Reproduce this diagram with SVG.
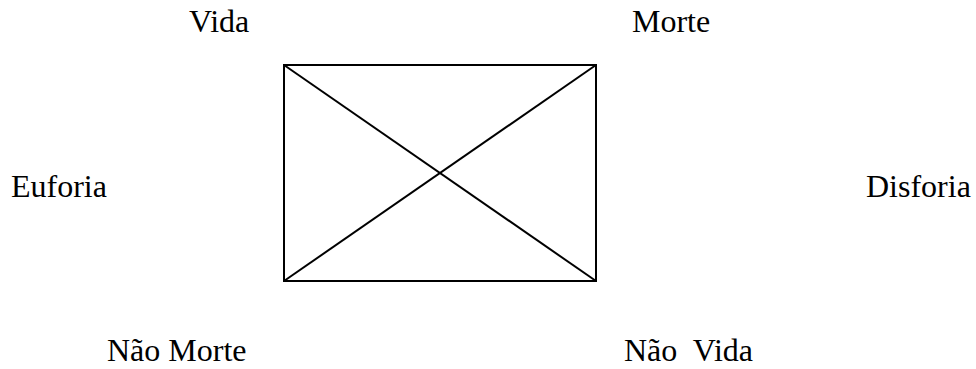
<svg xmlns="http://www.w3.org/2000/svg" width="976" height="369" viewBox="0 0 976 369">
<style>
.t{font-family:"Liberation Serif","Times New Roman",serif;font-size:32px;fill:#000;white-space:pre}
.l{stroke:#000;stroke-width:2;fill:none}
</style>
<rect width="976" height="369" fill="#fff"/>
<g id="square">
<rect class="l" x="284" y="65" width="312" height="216"/>
</g>
<g id="connectors">
<line class="l" x1="284" y1="65" x2="596" y2="281"/>
<line class="l" x1="596" y1="65" x2="284" y2="281"/>
</g>
<g id="vida"><text class="t" x="189" y="32">Vida</text></g>
<g id="morte"><text class="t" x="632" y="32">Morte</text></g>
<g id="euforia"><text class="t" x="11" y="197">Euforia</text></g>
<g id="disforia"><text class="t" x="866" y="197">Disforia</text></g>
<g id="nao-morte"><text class="t" x="107" y="361">Não Morte</text></g>
<g id="nao-vida"><text class="t" x="624" y="361" xml:space="preserve">Não  Vida</text></g>
</svg>
